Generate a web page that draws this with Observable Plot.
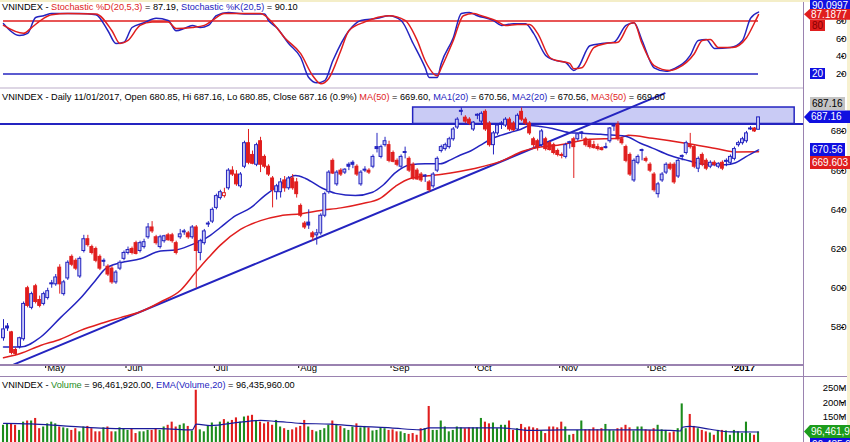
<!DOCTYPE html>
<html><head><meta charset="utf-8">
<script src="https://cdn.jsdelivr.net/npm/d3@7"></script>
<script src="https://cdn.jsdelivr.net/npm/@observablehq/plot@0.6"></script>
<style>
html,body{margin:0;padding:0;background:#fff;}
#chart{position:relative;width:850px;height:442px;overflow:hidden;background:#fff;font-family:Arial,"Liberation Sans",sans-serif;}
.panel{position:absolute;left:0;width:850px;}
.title{position:absolute;left:2px;font-size:9.2px;line-height:10px;white-space:nowrap;color:#000;}
.badge{position:absolute;font-size:10px;white-space:nowrap;box-sizing:border-box;padding:0 2px;}
.sep{position:absolute;}
</style>
</head><body>
<div id="chart"></div>
<script>
// ---------------- data ----------------
const opens = [
574.5,580.5,577.5,568.5,570,574,600,590,601,594,
592,595,602.5,602,610.5,597,605,616,614,606,
619,625,621,620,616,614,611,610,603,610,
615,618,620,623,619,621,626,631,626,621,
624,627,627,623,626,629,628,626,631,618,
623,633,634,641,646,647,651,660,658,652,
662,674,668,663,675,667,662,656,649,649,
655,651,656,654,642,633,633.5,628,627,628,
637,649,665,653,660,659,663,664,662,653,
660.5,660,662,672,667,673,673,669,665,662,
669.5,666,663,660,658,657,654,652,660,670,
671,672,676,682,690.5,687,686,681,688.5,685,
690,684,673,679,684,683,686,684,681,690,
686,684,676,675,673,676,674,673,670,668,
667,674.5,676,676,679.5,676,675,673,672,671.5,
672,675,683,683.5,676,672,668,655,664,670.5,
666,663,658,648,655,659,663,663,657,667.5,
669,673,672,661,668,665,662,664,662,664,
665,664,666,673,674,675,681.5,681.5,680.85];
const highs = [
584,582,578,569.5,575,593,601,598,602,596,
598,600,604,607,612,604,614,617,615,616,
627,627,622,621,617,615,612,611,609,614,
619,621,621,624,624,625,633,634,627,627,
627,628,628,624,630,630,629,632,632,625,
630,634,641,648,650,651,661,662,660,659,
675,681,670,674,677,668,663,657,653,656,
657,657,658,656,643,634,640,629,630,638,
649,660,666,660,661,661,664,665,663,660,
662,661,668,679,673,677,675,670,666,668,
672,667,664,661,659,658,655,659,667,673,
674,677,682,687,692,688,687,685,689,690,
691,685,680,684,685,687,687,685,689,692,
687,685,677,676,681,677,675,674,671,669,
674,675,677,679,680,677,676,675,673.5,672,
674,682,684,685,677,673,669,666,668,671,
667,664,659,654,659,664,664,664,666,668,
675,679,673,667,669,666,665,665,664,665,
666,668,672,675,677,680,682.5,682,687.16];
const lows = [
573,578,566,565.5,569,573,590,589,592,590,
591,594,600,601,597,596,604,611,609,605,
618,621,617,613,609,611,606,602,602,609,
614,617,617,617,618,620,625,628,622,620,
623,624,623,617,625,627,625,625,600,614,
622,631,633,640,645,646,650,657,652,651,
661,663,663,662,659,661,657,641,645,646,
649,650,650,646,636,630,630,624,622,627,
636,648,658,652,657,658,660,661,657,652,
659,658,661,669,666,672,664,664,662,661,
666,659,655,655,654,654,649,651,659,669,
670,671,675,681,688,684,683,680,686,684,
680,672,668,678,681,682,680,680,680,685,
683,678,671,670,672,670,670,668,667,666,
666,671,656,675,676,672,671,671,670,670,
671,674,680,675,673,664,657,654,663,665,
664,659,649,646,654,658,660,653,656,665,
668,671,661,659,662,660,661,662,661,660,
662,663,665,672,673,674,680.5,679.5,680.85];
const closes = [
579,579.5,567,566.5,574.5,592,591,597,593,591,
597,598.5,602,605.5,602,603,613,612,610,615,
625,622,618,614,610,613.5,607,603,608,613,
618,619.5,618,617.5,623,623.5,631,629,623,626,
626.5,624.5,624,618,627.5,628.5,626,631,619,624,
629,632.5,640,647,649,648.5,660,658,653,658,
674,664,663.5,673,663,662,658,650,652,654,
651,656,651,648,637,631,632,626,628,637,
648,659,658.5,659,658,660.5,662,663,658,659,
660,659,667,671,672,675,665,664.5,663,667,
669,660,656,655.5,655,657.5,650,658,666,672,
673,676,681,686,690,685,684,684.5,688,689,
681,673,679,683,683.5,686,681,680.5,688,686,
684,679,673,672,680,671,670.5,669,668,667.5,
673,674,672,678.5,679,673,672,671.5,671,670.5,
671.5,681.5,682.5,676,674,665,658,665,667,670,
665,660,650,653,658,663,661,654,665,667,
674,672,662,666,663,661,664,663,663.5,661,
664.5,667,671,674,676,679,681,680,687.16];
// volume, millions
const volumes = [
120,125,125,120,102,131,135,135,144,108,
114,125,131,125,114,111,108,102,108,97,
114,116,108,97,97,111,114,97,97,111,
108,102,108,91,97,97,102,102,108,102,
114,120,131,114,120,125,116,100,243,104,
97,116,128,114,131,140,131,137,146,131,
149,152,155,137,131,125,131,120,137,114,
108,102,104,111,116,137,114,102,97,102,
108,120,135,123,116,108,102,114,125,111,
116,111,100,102,111,108,102,104,97,97,
91,88,91,85,108,108,186,102,102,135,
114,97,102,114,111,108,111,111,111,144,
131,125,128,108,120,120,135,102,108,123,
111,114,111,108,100,91,114,114,111,131,
114,85,88,102,135,104,104,111,104,108,
123,102,100,108,111,120,111,100,114,114,
104,102,108,120,104,102,93,97,108,195,
108,158,116,108,102,97,93,85,102,102,
100,85,102,97,91,131,91,85,96.46];
const emaDays = [0,6.7,14.2,24.2,31.6,39.1,47,48,51.5,59,64,67.7,74,81.4,88.9,96.4,103.8,106,113.8,123.8,131.2,138.7,148.7,158.6,166,168.6,169,171,176,181,188];
const emaVals = [127,125,119,110,108,108,104,124,119,131,137,134,127,124,116,111,104,111,111,111,102,104,104,104,102,100,113,116,106,97,96.44];

const ma20Days = [0,4.2,9.2,14.2,19.2,22.9,25.4,29.1,34.1,39.1,42.8,46.6,49,51.5,54,57.8,61.5,65.2,69,72.7,75.2,79.4,82.7,87.6,91.9,94.4,97.6,101.3,105,108.8,111.3,113.8,116.3,118.8,121.3,123.8,126.2,128.7,131.2,133.7,136.7,140.7,144.9,148.7,152.4,154.9,158.6,161.6,165.6,169.8,173.5,176.5,179.7,182.3,184.8,188];
const ma20Vals = [570,570,575,585,595,604,610,613,615,619,619.5,622,624,627,631,637,641,647.5,653,657.5,656,651,648.4,647.3,649,652.4,659,663,663.5,663.5,665.5,668,670,673,676,678,679.5,681,683,682.5,681.5,679.5,679,678.5,678,677.5,674,671.5,668,665.5,663.5,663,663,664,667,670.56];
const ma50Days = [0,4.2,9.2,14.2,19.2,24.2,29.1,34.1,39.1,44.1,47.8,51,54,59,64,69,74,79,84,88.9,93.9,97.6,101.3,108.8,117,123.8,129.5,133.7,138,146.2,153.1,155.6,161.6,169.8,178,182.3,188];
const ma50Vals = [564.5,566.7,570.8,574,578.5,582,585,588,593,599,608,615.5,622,630,634.5,637,638,639.7,641,643,646,652,656,658,661,664.7,670,672,673,676,676.5,678,676.5,674,671,669.5,669.6];

const kDays = [0,4,6,8,10,12,16,19,23,26,28,30,32,35,38,41,43,45,47,49,51,53,56,60,65,66,68,71,74,76,78,80,82,86,89,93,96,99,102,105,106,108,109,112,114,116,118,122,124,127,130,132,135,137,140,142,143,146,149,152,155,157,159,162,165,167,171,173,175,177,181,184,186,188];
const kVals = [77,63.6,66,84,86,88.5,88.5,88.5,87,69,54.5,56,72.6,78,83,80.6,69,71.5,75,72.6,75,86,89.6,88,88,80.6,72.6,54.5,38.7,16,10,12.6,35,69,80.6,83,86,80.6,54.5,27,16,16,32,61,88.5,89.7,86,80.6,75,77,77,66,41,36,33,24,27,52,54.5,56,75,78,58,27,23,26,41,58,59,49,50,58,83,90.1];
const dDays = [0,5,7,10,12,16,23,27,29,31,34,37,41,43,47,50,52,55,64,67,70,74,77,79,81,84,86,90,96,100,103,105,108,109,112,114.5,117,119,122.5,125,128,131,133,136,138,141,142,144,147,150,153,156,157,159,162,166,168,172,174,176,178,181.5,185,187,188];
const dVals = [75,66,72.6,83,87,88.5,88,69,54.5,58,75,79,79,71.5,72.6,75,80.6,88.5,88.5,78,61,43,18,9,15,46.6,69,79,86,80.6,58,35,18,27,58,86,88.5,86,80.6,75,76,76,66,38.7,35,32,26,27,50,54.5,56,77,78,54.5,29.6,24,27,43,58,59,50,50,61,78,87.19];
const stochLevels = [80, 20];

const trendDays = [2.5, 164.6];
const trendVals = [561, 699.4];
const zoneDays = [102, 197];
const zoneRange = [683.8, 692.2];
const resistance = 683.8;

const monthLabels = ["May","Jun","Jul","Aug","Sep","Oct","Nov","Dec","2017"];
const monthStartDays = [11,31,53,74,97,118,139,161,182];

const priceTicks = [580,600,620,640,660,680];
const stochTicks = [20,40,60,80];
const volTicks = [150,200,250];

// ---------------- styling ----------------
const RED = "#e01e1e", BLUE = "#2424c0", GREEN = "#1c8c1c", HOLLOW = "#c9cbf5";
const AXIS = "#9a82b0";
const FONT = 'Arial, "Liberation Sans", sans-serif';
const xDomain = [-0.75, 199.2];
const xScale = {domain: xDomain, range: [0, 803]};
const plotStyle = {fontFamily: FONT, fontSize: "9.5px", color: "#000", background: "transparent", overflow: "visible"};

const candles = closes.map((c, i) => ({
  day: i, open: opens[i], high: highs[i], low: lows[i], close: c,
  up: i === 0 || c >= closes[i - 1], hollow: c > opens[i], vol: volumes[i]
}));
const col = d => d.up ? BLUE : RED;
const line = (days, vals) => days.map((d, i) => ({day: d, v: vals[i]}));

const chart = document.getElementById("chart");
function mount(plot, top){ const w = document.createElement("div"); w.className="panel"; w.style.top = top+"px"; w.appendChild(plot); chart.appendChild(w); return plot; }

// ---------------- stochastic panel ----------------
const stochPlot = mount(Plot.plot({
  width: 850, height: 88, marginLeft: 0, marginRight: 47, marginTop: 0, marginBottom: 0,
  x: {...xScale, axis: null},
  y: {domain: [3.6, 103.2], range: [88, 0]},
  style: plotStyle,
  marks: [
    Plot.ruleY(stochLevels, {y: d => d, x1: 0, x2: 188, stroke: d => d === 80 ? RED : BLUE, strokeWidth: 1.5}),
    Plot.line(line(kDays, kVals), {x: "day", y: "v", stroke: BLUE, strokeWidth: 1.5, curve: "monotone-x"}),
    Plot.line(line(dDays, dVals), {x: "day", y: "v", stroke: RED, strokeWidth: 1.5, curve: "monotone-x"}),
    Plot.axisY({anchor: "right", ticks: stochTicks, tickSize: 3, tickPadding: 3, textAnchor: "end", dx: 37, fontSize: 9.5, label: null})
  ]
}), 0);

// ---------------- price panel ----------------
const mainPlot = mount(Plot.plot({
  width: 850, height: 288, marginLeft: 0, marginRight: 47, marginTop: 0, marginBottom: 12,
  x: {...xScale, axis: null, label: null},
  y: {domain: [561.1, 701.9], range: [276, 0]},
  style: plotStyle,
  marks: [
    Plot.rect([0], {x1: zoneDays[0], x2: zoneDays[1], y1: zoneRange[0], y2: zoneRange[1], fill: HOLLOW, stroke: BLUE, strokeWidth: 1.5}),
    Plot.ruleY([resistance], {stroke: BLUE, strokeWidth: 2}),
    Plot.line(line(trendDays, trendVals), {x: "day", y: "v", stroke: BLUE, strokeWidth: 2}),
    Plot.line(line(ma50Days, ma50Vals), {x: "day", y: "v", stroke: RED, strokeWidth: 1.5, curve: "monotone-x"}),
    Plot.line(line(ma20Days, ma20Vals), {x: "day", y: "v", stroke: BLUE, strokeWidth: 1.5, curve: "monotone-x"}),
    Plot.ruleX(candles, {x: "day", y1: "low", y2: "high", stroke: col, strokeWidth: 1}),
    Plot.rect(candles, {x1: d => d.day - 0.36, x2: d => d.day + 0.36, y1: "open", y2: "close",
      fill: d => d.hollow ? (d.up ? HOLLOW : "#ffffff") : col(d), stroke: col, strokeWidth: 1}),
    Plot.axisY({anchor: "right", ticks: priceTicks, tickSize: 3, tickPadding: 3, textAnchor: "end", dx: 37, fontSize: 9.5, label: null}),
    Plot.axisX({anchor: "bottom", ticks: monthStartDays.map(d => d - 0.5), tickSize: 4, tickFormat: () => "", stroke: "#000", label: null}),
    Plot.text(monthLabels.slice(0, 8), {x: (d, i) => monthStartDays[i] - 0.5, text: d => d, frameAnchor: "bottom", textAnchor: "start", dx: 1.5, dy: 6, fontSize: 9.5}),
    Plot.text(monthLabels.slice(8), {x: (d, i) => monthStartDays[8 + i] - 0.5, text: d => d, frameAnchor: "bottom", textAnchor: "start", dx: 1.5, dy: 6, fontSize: 9.5, fontWeight: "bold"})
  ]
}), 88);

// ---------------- volume panel ----------------
const volPlot = mount(Plot.plot({
  width: 850, height: 66, marginLeft: 0, marginRight: 47, marginTop: 0, marginBottom: 0,
  x: {...xScale, axis: null},
  y: {domain: [59.6, 291.2], range: [66, 0]},
  style: plotStyle,
  marks: [
    Plot.rect(candles, {x1: d => d.day - 0.26, x2: d => d.day + 0.26, y1: 0, y2: "vol", fill: d => d.up ? GREEN : RED, clip: true}),
    Plot.line(line(emaDays, emaVals), {x: "day", y: "v", stroke: "#1a1a9a", strokeWidth: 1.2, curve: "monotone-x"}),
    Plot.axisY({anchor: "right", ticks: volTicks, tickFormat: d => d + "M", tickSize: 3, tickPadding: 3, textAnchor: "end", dx: 37, fontSize: 9.5, label: null})
  ]
}), 376);

// ---------------- separators ----------------
function sep(l, t, w, h, c){ const s = document.createElement("div"); s.className="sep"; Object.assign(s.style,{left:l+"px",top:t+"px",width:w+"px",height:h+"px",background:c}); chart.appendChild(s); }
sep(0, 87, 803, 2, "#ddd6e4");
sep(0, 364, 803, 1.5, AXIS);
sep(0, 375.5, 850, 1.5, AXIS);
sep(802.5, 0, 1.5, 442, AXIS);
sep(0, 0, 850, 1.5, "#f4eec8");
sep(847, 0, 3, 442, "#f7f1cf");

// ---------------- titles ----------------
function title(top, parts){ const t = document.createElement("div"); t.className="title"; t.style.top = top+"px";
  parts.forEach(([txt, c]) => { const s = document.createElement("span"); s.textContent = txt; s.style.color = c || "#000"; t.appendChild(s); });
  chart.appendChild(t); }
title(2, [["VNINDEX - "],["Stochastic %D(20,5,3)", RED],[" = 87.19, "],["Stochastic %K(20,5)", BLUE],[" = 90.10"]]);
title(92, [["VNINDEX - Daily 11/01/2017, Open 680.85, Hi 687.16, Lo 680.85, Close 687.16 (0.9%) "],["MA(50)", RED],[" = 669.60, "],["MA1(20)", BLUE],[" = 670.56, "],["MA2(20)", BLUE],[" = 670.56, "],["MA3(50)", RED],[" = 669.60"]]);
title(380, [["VNINDEX - "],["Volume", GREEN],[" = 96,461,920.00, "],["EMA(Volume,20)", BLUE],[" = 96,435,960.00"]]);

// ---------------- value badges ----------------
function badges(plot, top, h, list){
  const ys = plot.scale("y");
  const placed = [];
  list.forEach(b => {
    const c = top + ys.apply(b.value);
    let t = c - h / 2;
    for (const p of placed) {
      if (t < p.t + h && t + h > p.t) {
        const dir = Math.abs(c - (p.t + h/2)) < 0.5 ? b.prefer : (c < p.t + h/2 ? -1 : 1);
        t = dir < 0 ? p.t - h : p.t + h;
      }
    }
    if (t < 0) t = 0;
    placed.push({t});
    const el = document.createElement("div"); el.className = "badge";
    el.textContent = b.text;
    Object.assign(el.style, {top: t + "px", height: h + "px", lineHeight: h + "px", background: b.bg, color: b.fg});
    if (b.arrow) { Object.assign(el.style, {left: "804px", width: "46px", paddingLeft: "7px", clipPath: `polygon(0 50%, 6px 0, 100% 0, 100% 100%, 6px 100%)`}); }
    else { el.style.left = "810px"; }
    b.el = el;
  });
  list.slice().reverse().forEach(b => chart.appendChild(b.el));
}
badges(stochPlot, 0, 11, [
  {value: 87.1877, text: "87.1877", bg: RED, fg: "#fff", arrow: true},
  {value: 90.0997, text: "90.0997", bg: "#1010e0", fg: "#fff", prefer: -1},
  {value: 80, text: "80", bg: RED, fg: "#800", prefer: 1},
  {value: 20, text: "20", bg: "#1010e0", fg: "#fff", prefer: 1}
]);
badges(mainPlot, 88, 13, [
  {value: 687.16, text: "687.16", bg: "#1010e0", fg: "#fff", arrow: true},
  {value: 687.16, text: "687.16", bg: "#c4c4c4", fg: "#000", prefer: -1},
  {value: 670.56, text: "670.56", bg: "#1010e0", fg: "#fff", prefer: -1},
  {value: 669.603, text: "669.603", bg: RED, fg: "#fff", prefer: 1}
]);
badges(volPlot, 376, 13, [
  {value: 96.46192, text: "96,461,92", bg: "#1c9c1c", fg: "#fff", arrow: true},
  {value: 96.43596, text: "96,435,96", bg: "#1010e0", fg: "#fff", prefer: 1}
]);
</script>
</body></html>
